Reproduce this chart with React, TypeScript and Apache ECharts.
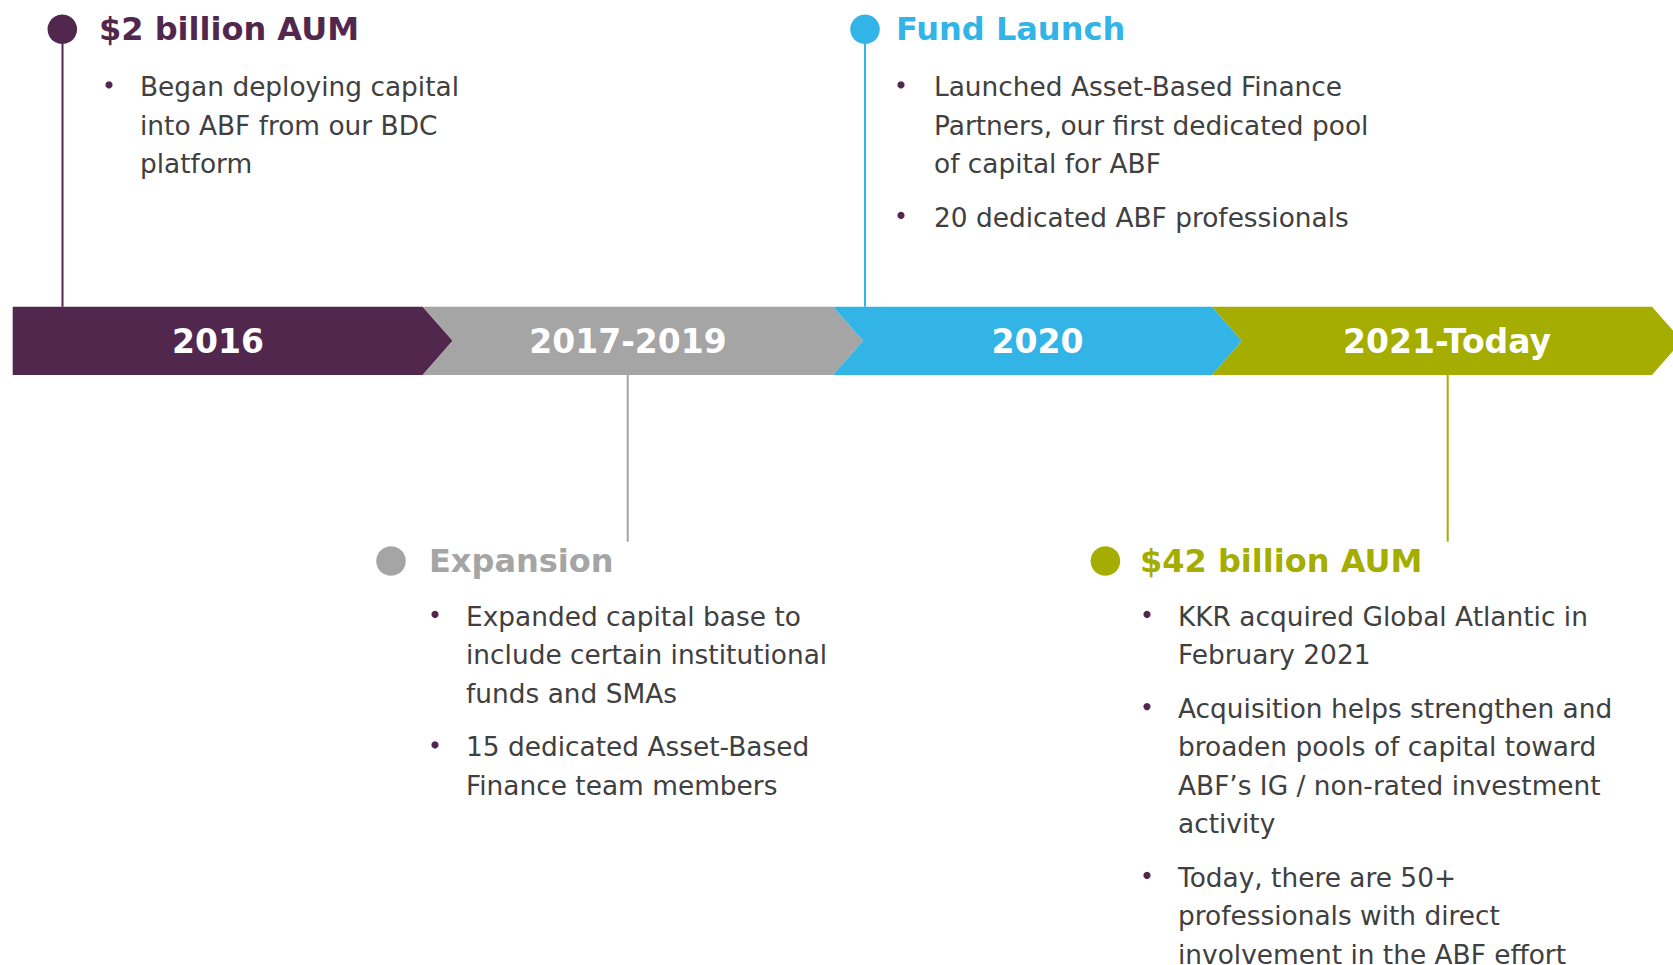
import React, { useEffect, useRef } from "react";
import * as echarts from "echarts";

// ---- Data ----
const periods = ["2016", "2017-2019", "2020", "2021-Today"];
const periodColors = ["#52274E", "#A5A5A5", "#32B4E6", "#A4AD00"];

const milestoneTitles = ["$2 billion AUM", "Expansion", "Fund Launch", "$42 billion AUM"];
const milestoneSide = ["above", "below", "above", "below"];
const milestoneBullets: string[][][] = [
  [["Began deploying capital", "into ABF from our BDC", "platform"]],
  [
    ["Expanded capital base to", "include certain institutional", "funds and SMAs"],
    ["15 dedicated Asset-Based", "Finance team members"],
  ],
  [
    ["Launched Asset-Based Finance", "Partners, our first dedicated pool", "of capital for ABF"],
    ["20 dedicated ABF professionals"],
  ],
  [
    ["KKR acquired Global Atlantic in", "February 2021"],
    ["Acquisition helps strengthen and", "broaden pools of capital toward", "ABF\u2019s IG / non-rated investment", "activity"],
    ["Today, there are 50+", "professionals with direct", "involvement in the ABF effort"],
  ],
];

// ---- Layout (page units, mapped through the hidden axes) ----
const segStart = [12.7, 422.7, 833, 1212];
const segEnd = [422.7, 833, 1212, 1652];
const labelX = [218, 628, 1037.5, 1447];
const dotX = [62.3, 391, 865, 1105.4];
const connectorX = [62.5, 627.7, 865, 1447.7];
const titleX = [99, 429, 896, 1140];
const bulletX = [109, 435, 901, 1147];
const textX = [140, 466, 934, 1178];

const W = 1673;
const H = 965;
const BAR_TOP = 306.7;
const BAR_BOTTOM = 375;
const TIP = 30;
const TOP_DOT_Y = 29.3;
const BOTTOM_DOT_Y = 561;
const BOTTOM_CONNECTOR_END = 541.7;
const FIRST_LINE_OFFSET_TOP = 58.6;
const FIRST_LINE_OFFSET_BOTTOM = 56.4;
const LINE_H = 38.3;
const BULLET_GAP = 15.6;
const TEXT_COLOR = "#404040";
const BULLET_COLOR = "#52274E";
const FONT = "'DejaVu Sans', Verdana, sans-serif";

export default function App() {
  const ref = useRef<HTMLDivElement>(null);

  useEffect(() => {
    if (!ref.current) return;
    const chart = echarts.init(ref.current, null, { renderer: "svg" });
    const mid = (BAR_TOP + BAR_BOTTOM) / 2;

    const chevronData = periods.map((p, i) => [i, segStart[i], segEnd[i], labelX[i]]);
    const milestoneData = milestoneTitles.map((t, i) => [i, dotX[i]]);

    chart.setOption({
      animation: false,
      backgroundColor: "#ffffff",
      grid: { left: 0, right: 0, top: 0, bottom: 0 },
      xAxis: { type: "value", min: 0, max: W, show: false },
      yAxis: { type: "value", min: 0, max: H, inverse: true, show: false },
      series: [
        {
          type: "custom",
          name: "periods",
          clip: false,
          data: chevronData,
          renderItem: (params: any, api: any) => {
            const i = api.value(0);
            const x0 = api.value(1);
            const x1 = api.value(2);
            const lx = api.value(3);
            const [a, top] = api.coord([x0, BAR_TOP]);
            const [b, bot] = api.coord([x1, BAR_BOTTOM]);
            const [bt, m] = api.coord([x1 + TIP, mid]);
            const [an] = api.coord([x0 + TIP, mid]);
            const [cx] = api.coord([lx, mid]);
            const pts: number[][] = [
              [a, top],
              [b, top],
              [bt, m],
              [b, bot],
              [a, bot],
            ];
            if (i > 0) pts.push([an, m]);
            return {
              type: "group",
              children: [
                {
                  type: "polygon",
                  shape: { points: pts },
                  style: { fill: periodColors[i] },
                },
                {
                  type: "text",
                  x: cx,
                  y: m + 1,
                  style: {
                    text: periods[i],
                    fill: "#ffffff",
                    fontSize: 33,
                    fontWeight: "bold",
                    fontFamily: FONT,
                    align: "center",
                    verticalAlign: "middle",
                  },
                },
              ],
            };
          },
        },
        {
          type: "custom",
          name: "milestones",
          clip: false,
          data: milestoneData,
          renderItem: (params: any, api: any) => {
            const i = api.value(0);
            const above = milestoneSide[i] === "above";
            const color = periodColors[i];
            const dotY = above ? TOP_DOT_Y : BOTTOM_DOT_Y;
            const [dx, dy] = api.coord([api.value(1), dotY]);
            const children: any[] = [];
            const y0 = above ? dotY : BAR_BOTTOM;
            const y1 = above ? BAR_TOP : BOTTOM_CONNECTOR_END;
            const [lx, ly0] = api.coord([connectorX[i], y0]);
            const [, ly1] = api.coord([connectorX[i], y1]);
            children.push({
              type: "line",
              shape: { x1: lx, y1: ly0, x2: lx, y2: ly1 },
              style: { stroke: color, lineWidth: 2 },
            });
            children.push({
              type: "circle",
              shape: { cx: dx, cy: dy, r: 14.8 },
              style: { fill: color },
            });
            const [tx] = api.coord([titleX[i], dotY]);
            children.push({
              type: "text",
              x: tx,
              y: dy - 0.5,
              style: {
                text: milestoneTitles[i],
                fill: color,
                fontSize: 32,
                fontWeight: "bold",
                fontFamily: FONT,
                align: "left",
                verticalAlign: "middle",
              },
            });
            let y = dotY + (above ? FIRST_LINE_OFFSET_TOP : FIRST_LINE_OFFSET_BOTTOM);
            const [bx] = api.coord([bulletX[i], 0]);
            const [px] = api.coord([textX[i], 0]);
            milestoneBullets[i].forEach((lines, k) => {
              if (k > 0) y += BULLET_GAP;
              const [, by] = api.coord([0, y - 3]);
              children.push({
                type: "circle",
                shape: { cx: bx, cy: by, r: 3.6 },
                style: { fill: BULLET_COLOR },
              });
              lines.forEach((line) => {
                const [, ly] = api.coord([0, y]);
                children.push({
                  type: "text",
                  x: px,
                  y: ly - 1,
                  style: {
                    text: line,
                    fill: TEXT_COLOR,
                    fontSize: 26.4,
                    fontFamily: FONT,
                    align: "left",
                    verticalAlign: "middle",
                  },
                });
                y += LINE_H;
              });
            });
            return { type: "group", children };
          },
        },
      ],
    });

    return () => chart.dispose();
  }, []);

  return (
    <div
      ref={ref}
      style={{ position: "fixed", left: 0, top: 0, width: W, height: H, background: "#fff" }}
    />
  );
}
